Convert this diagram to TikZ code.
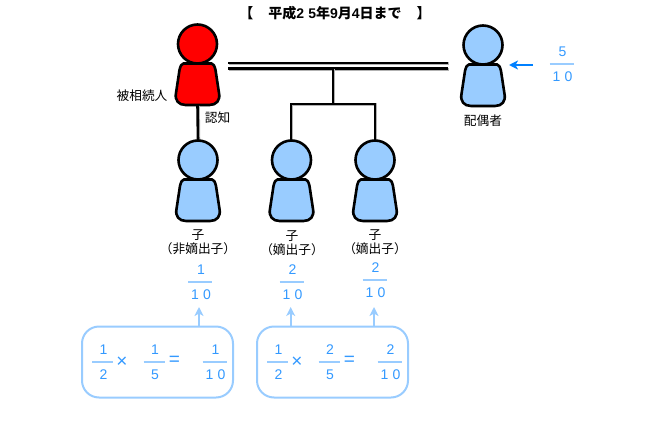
\documentclass[tikz,border=0pt]{standalone}
\usepackage{fontspec}
\setmainfont{Noto Sans CJK JP}
\newfontfamily\suji[LetterSpace=30]{Liberation Sans}
\newfontfamily\kigo{Liberation Sans}
\usetikzlibrary{shadows,arrows.meta}
\definecolor{aka}{HTML}{FF0000}
\definecolor{mizu}{HTML}{99CCFF}
\definecolor{ao}{HTML}{0080FF}
\definecolor{moji}{HTML}{3399FF}
\tikzset{
  sen/.style={line width=2.6pt,preaction={draw=black!30,line width=3pt,transform canvas={shift={(.8pt,-.8pt)}}}},
  hito/.style={draw,line width=2.6pt,drop shadow={shadow xshift=1pt,shadow yshift=-1pt,opacity=.45}},
  mei/.style={font=\fontsize{12.7}{14}\selectfont,inner sep=0pt,align=center},
  waku/.style={draw=mizu,line width=2pt,rounded corners=17pt,fill=white},
  ya/.style={draw=mizu,line width=2pt,-{Stealth[length=9pt,width=9pt,inset=2.5pt]}},
  kigo/.style={inner sep=0pt,text=moji,font=\kigo\fontsize{19}{20}\selectfont},
}
% head and body of one person: name, x, y of head, colour
\newcommand{\hito}[4]{
  \node[hito,circle,fill=#4,minimum size=39pt,inner sep=0pt] (#1h) at (#2,#3) {};
  \draw[hito,fill=#4] (#2-14,#3+19.5) -- (#2+14,#3+19.5)
    .. controls (#2+16,#3+19.5) and (#2+17,#3+22) .. (#2+18,#3+26)
    -- (#2+21.5,#3+49) .. controls (#2+23,#3+56) and (#2+19,#3+61) .. (#2+12,#3+61)
    -- (#2-12,#3+61) .. controls (#2-19,#3+61) and (#2-23,#3+56) .. (#2-21.5,#3+49)
    -- (#2-18,#3+26) .. controls (#2-17,#3+22) and (#2-16,#3+19.5) .. cycle;
  \coordinate (#1b) at (#2,#3+61);
}
% fraction: name, x, y of the bar, numerator, denominator, bar length
\newcommand{\bunsu}[6]{
  \node[inner sep=0pt,text=moji,font=\suji\fontsize{14}{16}\selectfont] (#1n) at (#2+1,#3-12.5) {#4};
  \node[inner sep=0pt,text=moji,font=\suji\fontsize{14}{16}\selectfont] (#1d) at (#2+1,#3+13) {#5};
  \draw[mizu,line width=1.8pt] (#2-#6/2,#3) -- (#2+#6/2,#3);
}
\newcommand{\tsuji}[1]{{\suji\fontsize{14}{15}\selectfont #1}}
\begin{document}
\begin{tikzpicture}[x=1pt,y=-1pt]
\useasboundingbox (0,0) rectangle (650,420);
\node[mei,font=\fontsize{14}{15}\selectfont\bfseries] (title) at (335,13) {【\hspace{15pt}平成\tsuji{25}年\tsuji{9}月\tsuji{4}日まで\hspace{15pt}】};

% marriage lines go behind the people
\coordinate (fa) at (228,63);
\coordinate (fb) at (448,63);
\coordinate (fc) at (228,68.5);
\coordinate (fd) at (448,68.5);
\draw[sen] (fa)--(fb);
\draw[sen] (fc)--(fd);
\coordinate (ma) at (333,68);
\coordinate (mb) at (333,104);
\coordinate (mc) at (291,104);
\coordinate (md) at (375,104);
\coordinate (me) at (291,141);
\coordinate (mf) at (375,141);
\draw[sen] (ma)--(mb);
\draw[sen] (me)--(mc)--(md)--(mf);

\hito{hi}{197.5}{44}{aka}
\hito{ha}{483}{45}{mizu}
\draw[sen] (hib)--(198,141);
\hito{ca}{198}{160}{mizu}
\hito{cb}{291.5}{160}{mizu}
\hito{cc}{375}{160}{mizu}

\node[mei] (hilabel) at (142,96) {被相続人};
\node[mei] (ninchi) at (217.5,118) {認知};
\node[mei] (halabel) at (483,121) {配偶者};
\node[mei] (calabel) at (198,242) {子\\（非嫡出子）};
\node[mei] (cblabel) at (292,243) {子\\（嫡出子）};
\node[mei] (cclabel) at (375,242) {子\\（嫡出子）};

\bunsu{ha}{561.5}{64}{5}{10}{24}
\coordinate (ya) at (533,65);
\coordinate (yb) at (509,65);
\draw[ya,draw=ao] (ya)--(yb);

\bunsu{a}{200}{282}{1}{10}{24}
\bunsu{b}{291.5}{282}{2}{10}{24}
\bunsu{c}{374.5}{280}{2}{10}{24}

\node[waku,minimum width=151pt,minimum height=71pt] (boxa) at (157.5,362) {};
\node[waku,minimum width=151pt,minimum height=71pt] (boxb) at (332.5,362) {};
\coordinate (ta) at (199,307);
\coordinate (tb) at (290.7,307);
\coordinate (tc) at (374,307);
\draw[ya] (boxa.north -| ta)--(ta);
\draw[ya] (boxb.north -| tb)--(tb);
\draw[ya] (boxb.north -| tc)--(tc);

\bunsu{d}{102.5}{362}{1}{2}{21}
\node[kigo] (xa) at (122,362) {×};
\bunsu{e}{154}{362}{1}{5}{21}
\node[kigo] (ea) at (174.5,361) {=};
\bunsu{f}{214.5}{362}{1}{10}{24}

\bunsu{g}{277.5}{362}{1}{2}{21}
\node[kigo] (xb) at (297,362) {×};
\bunsu{h}{329}{362}{2}{5}{21}
\node[kigo] (eb) at (349.5,361) {=};
\bunsu{i}{389.5}{362}{2}{10}{24}
\end{tikzpicture}
\end{document}
